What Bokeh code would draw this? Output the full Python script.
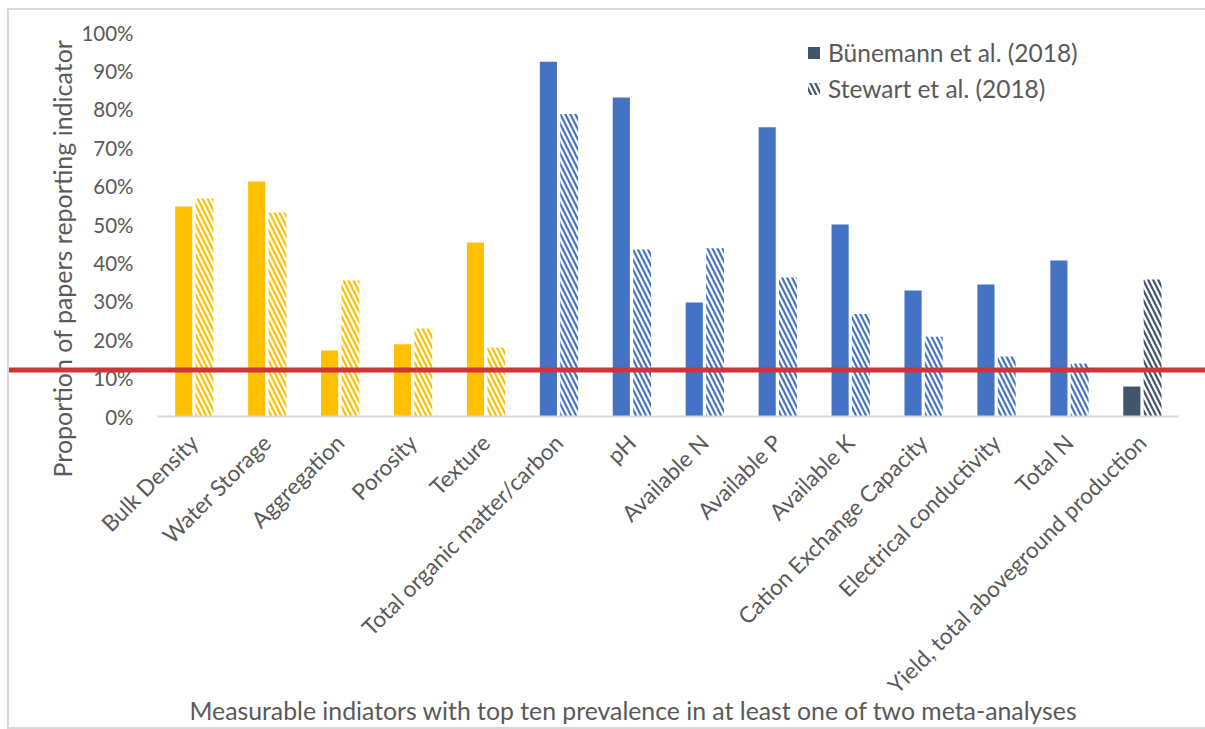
from math import pi

from bokeh.embed import file_html
from bokeh.models import (ColumnDataSource, FixedTicker, InlineStyleSheet, Label, Legend,
                          LegendItem, LinearAxis, PrintfTickFormatter, Range1d, Span)
from bokeh.plotting import figure
from bokeh.resources import INLINE
from bokeh.transform import dodge

# Share of papers (%) reporting each indicator in the two meta-analyses
indicators = [
    "Bulk Density", "Water Storage", "Aggregation", "Porosity", "Texture",
    "Total organic matter/carbon", "pH", "Available N", "Available P", "Available K",
    "Cation Exchange Capacity", "Electrical conductivity", "Total N",
    "Yield, total aboveground production",
]
bunemann = [54.7, 61.2, 17.2, 18.8, 45.3, 92.4, 83.1, 29.7, 75.3, 50.0, 32.8, 34.4, 40.6, 7.8]
stewart = [56.8, 53.1, 35.4, 22.9, 18.0, 78.8, 43.5, 43.8, 36.2, 26.7, 20.8, 15.6, 13.8, 35.7]
indicator_group = ["physical"] * 5 + ["chemical"] * 8 + ["biological"]
group_colors = {"physical": "#FFC000", "chemical": "#4472C4", "biological": "#44546A"}
threshold = 12.1
y_ticks = [0, 10, 20, 30, 40, 50, 60, 70, 80, 90, 100]
series_names = ["Bünemann et al. (2018)", "Stewart et al. (2018)"]
y_title = "Proportion of papers reporting indicator"
x_title = "Measurable indiators with top ten prevalence in at least one of two meta-analyses"

FONT = "Lato"
TEXT = "#595959"

# Page geometry (pixels): the plot frame covers the whole chart so that the
# reference line can run edge to edge; the axes are pinned inside it.
W, H = 1205, 729
FRAME_LEFT = 7
BAND_LEFT, BAND_RIGHT = 157, 1178   # extent of the category band
ZERO_Y, FULL_Y = 416, 32            # rows of the 0 % and 100 % levels

n = len(indicators)
ux = (BAND_RIGHT - BAND_LEFT) / n
uy = (ZERO_Y - FULL_Y) / 100.0


def to_data(px, py):
    """Convert a page pixel position to data coordinates."""
    return -0.5 + (px - BAND_LEFT) / ux, (ZERO_Y - py) / uy


x_start, _ = to_data(FRAME_LEFT, 0)
x_end, _ = to_data(W, 0)
_, y_end = to_data(0, 0)
_, y_start = to_data(0, H)

src = ColumnDataSource(dict(
    pos=list(range(n)),
    bunemann=bunemann,
    stewart=stewart,
    color=[group_colors[g] for g in indicator_group],
))

p = figure(
    x_range=Range1d(x_start, x_end), y_range=Range1d(y_start, y_end),
    width=W, height=H,
    output_backend="svg", toolbar_location=None,
    x_axis_location=None, y_axis_location=None,
    min_border_left=FRAME_LEFT, min_border_right=0,
    min_border_top=0, min_border_bottom=0,
)

r_solid = p.vbar(x=dodge("pos", -0.14), top="bunemann", width=0.235,
                 fill_color="color", line_color=None, source=src)
r_hatch = p.vbar(x=dodge("pos", 0.145), top="stewart", width=0.245,
                 fill_color="white", line_color=None, hatch_pattern="\\",
                 hatch_color="color", hatch_scale=10, hatch_weight=2.2, source=src)

p.grid.visible = False
p.outline_line_color = None
p.background_fill_color = "white"
p.border_fill_color = "white"

xa = LinearAxis(
    fixed_location=0, bounds=(-0.5, n - 0.5),
    ticker=FixedTicker(ticks=list(range(n))),
    major_label_overrides={i: name for i, name in enumerate(indicators)},
    axis_line_color="#D9D9D9", axis_line_width=2,
    major_tick_line_color=None, minor_tick_line_color=None,
    major_label_orientation=pi / 4, major_label_standoff=16,
    major_label_text_font=FONT, major_label_text_font_size="22.5px",
    major_label_text_color=TEXT,
)
p.add_layout(xa, "below")

ya = LinearAxis(
    fixed_location=-0.5, bounds=(0, 100),
    ticker=FixedTicker(ticks=y_ticks),
    formatter=PrintfTickFormatter(format="%d%%"),
    axis_line_color=None, major_tick_line_color=None, minor_tick_line_color=None,
    major_label_standoff=18,
    major_label_text_font=FONT, major_label_text_font_size="20.5px",
    major_label_text_color=TEXT,
)
p.add_layout(ya, "left")

ty_x, ty_y = to_data(61, 258)
p.add_layout(Label(x=ty_x, y=ty_y, text=y_title, angle=pi / 2,
                   text_align="center", text_baseline="middle",
                   text_font=FONT, text_font_size="25px", text_color=TEXT))
tx_x, tx_y = to_data(633, 710)
p.add_layout(Label(x=tx_x, y=tx_y, text=x_title,
                   text_align="center", text_baseline="middle",
                   text_font=FONT, text_font_size="24.8px", text_color=TEXT))

legend = Legend(
    items=[LegendItem(label=series_names[0], renderers=[r_solid], index=n - 1),
           LegendItem(label=series_names[1], renderers=[r_hatch], index=n - 1)],
    location=(799, 626), glyph_width=15, glyph_height=15, label_standoff=7,
    spacing=7, padding=0, margin=0, border_line_color=None, background_fill_alpha=0,
    label_text_font=FONT, label_text_font_size="24.5px", label_text_color=TEXT,
)
p.add_layout(legend)

# red reference line across the whole chart, drawn over everything else
p.add_layout(Span(location=threshold, dimension="width",
                  line_color="#D13438", line_width=5))

p.stylesheets = [InlineStyleSheet(css=(
    ":host::after { content: ''; position: absolute; left: 7px; top: 8px; "
    "width: 1200px; height: 721px; border: 2px solid #D9D9D9; box-sizing: border-box; "
    "pointer-events: none; }"
))]

open("out.html", "w").write(file_html(p, INLINE))
